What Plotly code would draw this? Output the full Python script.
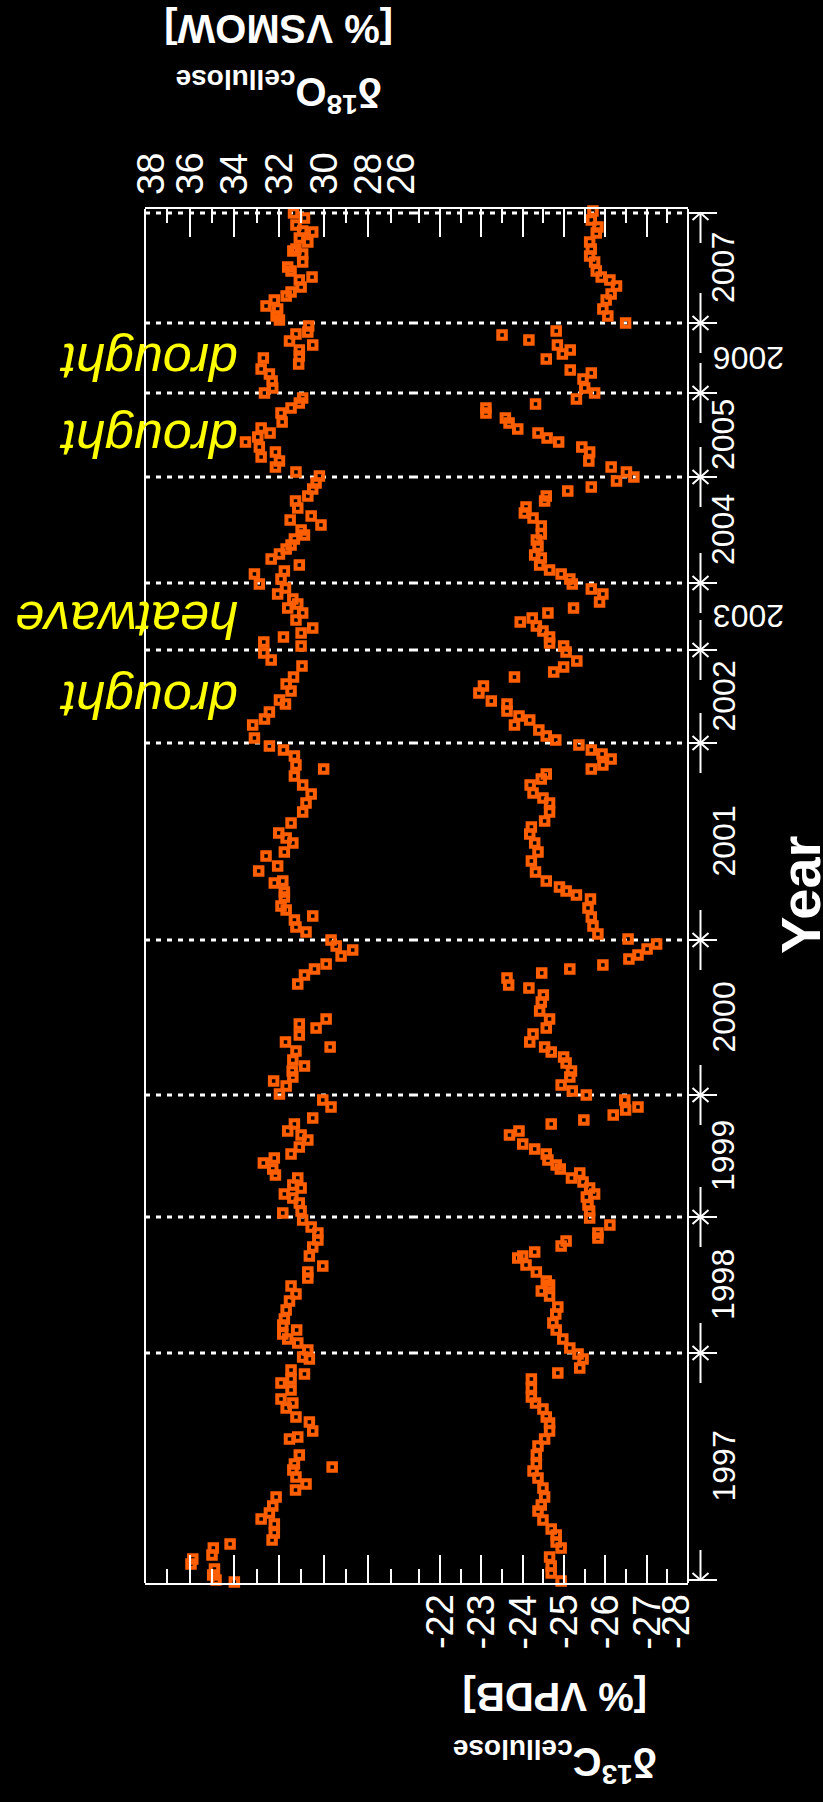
import plotly.graph_objects as go

# ---------------- data ----------------
# radial position along the core (arbitrary units, 0 = bottom of frame)
ring_bounds = [3, 230, 366, 488, 643, 840, 933, 1000, 1106, 1190, 1260, 1370]
ring_years = ["1997", "1998", "1999", "2000", "2001", "2002", "2003", "2004", "2005", "2006", "2007"]
flat_years = ["2003", "2006"]
event_names = ["drought", "heatwave", "drought", "drought"]
event_years = ["2002", "2003", "2005", "2006"]

o18_pos = [1370, 1365, 1358, 1352, 1351, 1345, 1341, 1334, 1332, 1329, 1321, 1316, 1312, 1306, 1303, 1296, 1291, 1287, 1283, 1277, 1274, 1267, 1263,
           1257, 1251, 1249, 1242, 1238, 1233, 1227, 1225, 1219, 1214, 1209, 1202, 1195, 1190,
           1185, 1180, 1175, 1170, 1161, 1155, 1150, 1146, 1141, 1136, 1131, 1126, 1122, 1116, 1111,
           1107, 1100, 1094, 1087, 1082, 1075, 1067, 1063, 1058, 1053, 1048, 1044, 1038, 1034, 1029, 1024, 1018, 1012, 1009, 1004, 999,
           995, 989, 984, 979, 975, 970, 963, 955, 950, 946, 941, 937, 930, 923,
           917, 906, 899, 892, 883, 879, 871, 864, 858, 845, 837,
           833, 827, 818, 814, 807, 798, 789, 780, 771, 760, 750, 745, 740, 731, 727, 717, 712, 702, 700, 691,
           686, 677, 673, 667, 663, 656, 651,
           643, 637, 633, 627, 619, 614, 608, 599, 564, 559, 555, 548, 541, 536, 532, 523, 517, 512, 506, 502, 497, 489,
           483, 476, 465, 459, 452, 448, 443, 436, 429, 425, 420, 414, 408, 405, 398, 395, 389, 385, 380, 372, 370,
           363, 356, 350, 343, 336, 327, 317, 311, 305, 297, 289, 282, 273, 264, 258, 253, 249, 244, 240, 233, 226,
           224, 213, 209, 204, 200, 193, 184, 180, 175, 166, 161, 152, 146, 144, 128, 119, 116, 113, 106, 99, 93, 86, 77, 70, 64,
           59, 50, 43, 39, 35, 28, 24, 19, 14, 8, 3, 1]
o18_val = [31.35, 30.86, 31.24, 30.94, 30.49, 31.09, 30.71, 31.24, 31.38, 30.94, 30.94, 31.61, 31.46, 30.52, 31.09, 31.01, 31.46, 31.68, 32.21, 32.58, 32.06, 32.13, 31.98,
           30.67, 30.71, 31.24, 31.53, 30.49, 31.09, 31.09, 32.70, 31.12, 32.80, 32.43, 32.31, 32.28, 32.65,
           30.94, 31.09, 31.46, 31.91, 31.86, 32.80, 32.40, 32.95, 33.50, 32.88, 32.16, 32.80, 31.98, 32.16, 31.24,
           30.19, 30.34, 30.49, 30.71, 31.26, 31.16, 30.56, 31.50, 30.12, 31.01, 30.86, 31.31, 31.46, 31.68, 31.98, 32.35, 31.09, 31.76, 33.10, 31.91, 32.88,
           31.71, 32.06, 31.38, 31.16, 31.61, 30.94, 31.24, 30.49, 31.01, 31.80, 32.68, 31.01, 32.68, 32.35,
           30.97, 31.35, 31.68, 31.46, 31.98, 31.71, 32.43, 32.65, 33.18, 33.10, 32.43,
           31.80, 31.31, 31.24, 30.00, 31.31, 30.94, 30.56, 30.79, 30.94, 31.46, 32.01, 31.68, 31.38, 31.76, 32.58, 32.06, 32.91, 31.83, 32.21, 31.76,
           31.76, 31.91, 31.68, 30.49, 31.31, 31.24, 30.79,
           29.67, 29.44, 28.70, 29.22, 29.89, 30.41, 30.86, 31.16, 29.89, 31.09, 30.34, 31.09, 31.71, 29.71, 31.24, 31.38, 30.86, 31.41, 31.38, 32.24, 31.68, 31.98,
           30.04, 29.67, 30.49, 31.31, 31.61, 31.01, 30.71, 31.09, 31.46, 32.21, 32.70, 32.28, 32.16, 31.16, 31.38, 31.01, 31.76, 31.38, 31.09, 31.01, 31.83,
           30.94, 30.56, 30.26, 30.26, 30.49, 30.64, 30.04, 30.71, 30.71, 31.46, 31.24, 31.53, 31.68, 31.76, 31.83, 31.21, 31.83, 31.61, 31.16, 30.71, 30.94,
           30.64, 31.46, 30.86, 31.46, 31.91, 31.46, 31.91, 31.38, 31.68, 31.24, 30.64, 30.49, 31.16, 31.53, 31.09, 31.31, 29.62, 31.38, 31.24, 30.79, 31.26, 32.13, 32.28, 32.43, 32.80,
           32.21, 32.21, 32.31, 34.19, 34.94, 35.00, 35.86, 35.94, 34.89, 34.97, 34.82, 34.00]

c13_pos = [1372, 1363, 1356, 1350, 1341, 1334, 1327, 1321, 1312, 1306, 1303, 1297, 1289, 1283, 1274, 1267, 1260,
           1252, 1248, 1243, 1238, 1233, 1229, 1224, 1213, 1210, 1204, 1195, 1190,
           1184, 1179, 1175, 1170, 1165, 1160, 1154, 1150, 1145, 1141, 1136, 1131, 1122, 1116, 1111, 1106,
           1102, 1096, 1092, 1087, 1082, 1076, 1070, 1065, 1057, 1049, 1043, 1037, 1028, 1025, 1018, 1013, 1009, 1004,
           999, 994, 989, 981, 975, 970, 965, 961, 957, 952, 946, 940, 937,
           931, 922, 916, 911, 906, 897, 890, 882, 879, 872, 867, 863, 858, 853, 847, 843,
           838, 833, 829, 824, 818, 814, 809, 804, 798, 790, 785, 780, 771, 762, 756, 749, 740, 731, 722, 711, 702, 696, 692, 688, 684,
           675, 666, 657, 649,
           644, 639, 634, 628, 624, 618, 614, 610, 605, 598, 595, 588, 581, 572, 564, 555, 549, 541, 536, 531, 526, 520, 512, 506, 498, 492, 488,
           483, 476, 473, 468, 463, 459, 452, 448, 439, 434, 429, 423, 418, 414, 410, 405, 401, 395, 389, 386, 378, 372, 365,
           358, 350, 345, 342, 337, 331, 327, 325, 318, 311, 302, 298, 292, 287, 276, 269, 260, 253, 244, 235, 229, 224, 215,
           210, 204, 195, 186, 180, 174, 166, 160, 152, 144, 137, 128, 119, 112, 105, 95, 86, 78, 72, 63, 54, 48, 41, 35, 26, 17, 10, 2]
c13_val = [-25.70, -25.66, -25.82, -25.78, -25.62, -25.66, -25.62, -25.74, -25.78, -25.90, -26.11, -26.27, -26.14, -26.02, -25.94, -26.06, -26.49,
           -24.81, -23.50, -24.15, -24.84, -25.15, -24.96, -24.57, -25.15, -25.66, -25.46, -25.50, -25.74,
           -25.30, -24.31, -23.11, -23.11, -23.58, -23.67, -23.88, -24.37, -24.59, -24.87, -25.43, -25.62, -25.60, -26.14, -26.51, -26.69,
           -26.27, -25.66, -25.09, -24.57, -24.53, -24.08, -24.04, -24.25, -24.45, -24.45, -24.33, -24.37, -24.29, -24.45, -24.41, -24.65, -24.93, -25.14,
           -25.20, -25.66, -25.94, -25.86, -25.23, -24.61, -24.23, -23.94, -24.33, -24.49, -24.65, -24.65, -24.99,
           -25.05, -25.31, -24.99, -24.75, -23.80, -23.05, -22.94, -23.24, -23.62, -23.62, -23.91, -24.17, -23.80, -24.39, -24.57, -24.80,
           -25.36, -25.66, -25.92, -26.14, -25.94, -25.66, -24.57, -24.45, -24.18, -24.25, -24.49, -24.65, -24.65, -24.53, -24.21, -24.17, -24.29, -24.37, -24.21, -24.31, -24.57, -24.89, -25.05, -25.30, -25.64,
           -25.58, -25.66, -25.70, -25.82,
           -26.55, -27.24, -27.01, -26.79, -26.57, -25.94, -25.14, -24.46, -23.62, -23.66, -24.15, -24.50, -24.45, -24.41, -24.65, -24.57, -24.25, -24.17, -24.53, -24.69, -24.99, -25.05, -25.18, -25.14, -24.93, -25.20, -25.54,
           -26.47, -26.79, -26.49, -26.19, -25.48, -24.69, -23.91, -23.68, -24.00, -24.29, -24.57, -24.61, -24.81, -24.91, -25.38, -25.18, -25.46, -25.62, -25.74, -25.54, -25.58, -25.62, -25.62,
           -26.11, -25.82, -25.82, -25.05, -24.93, -24.29, -24.00, -23.88, -24.08, -24.33, -24.57, -24.65, -24.45, -24.65, -24.85, -24.80, -24.73, -24.81, -24.97, -25.14, -25.34, -25.46, -25.38,
           -24.85, -24.21, -24.21, -24.21, -24.31, -24.49, -24.57, -24.65, -24.65, -24.53, -24.37, -24.33, -24.33, -24.25, -24.37, -24.49, -24.53, -24.45, -24.37, -24.49, -24.69, -24.81, -24.81, -24.93, -24.65, -24.69, -24.69, -24.93]

o18_ticks = [38, 36, 34, 32, 30, 28, 26]
o18_ticktext = ["38", "36", "34", "32", "30", "28", "26"]
c13_ticks = [-22, -23, -24, -25, -26, -27, -28]
c13_ticktext = ["-22", "-23", "-24", "-25", "-26", "-27", "-28"]

# ---------------- layout geometry ----------------
W, H = 823, 1802
ML, MR, MT, MB = 145, 0, 209, 219
PW = W - ML - MR
PH = H - MT - MB
LEFT_W, RIGHT_W = 268, 275
d1 = LEFT_W / PW
d2 = (LEFT_W + RIGHT_W) / PW
POS_RANGE = [0, PH]
X3_RANGE = [0, W - ML - LEFT_W - RIGHT_W]


def py(px_from_top):
    """paper y for a pixel row measured from the top of the figure"""
    return (H - MB - px_from_top) / PH


def pxx(px_from_left):
    return (px_from_left - ML) / PW


FONT = "Liberation Sans, Arial, Helvetica, sans-serif"
ORANGE = "#FF5F00"
WHITE = "white"

fig = go.Figure()

marker = dict(symbol="square-open", size=7.5, color=ORANGE, line=dict(width=4, color=ORANGE))
fig.add_trace(go.Scatter(x=o18_val, y=o18_pos, mode="markers", marker=marker,
                         xaxis="x", yaxis="y", cliponaxis=False, hoverinfo="skip", showlegend=False))
fig.add_trace(go.Scatter(x=c13_val, y=c13_pos, mode="markers", marker=marker,
                         xaxis="x2", yaxis="y", cliponaxis=False, hoverinfo="skip", showlegend=False))

# ring boundary dimension column (x3 units)
LX = 12.5
ARM_X, ARM_Y, ARROW_LEN = 8, 7, 30
TICK_X = [0, 29]
xs, ys = [], []
for b in ring_bounds:
    xs += [TICK_X[0], TICK_X[1], None]
    ys += [b, b, None]
for i in range(len(ring_years)):
    lo, hi = ring_bounds[i], ring_bounds[i + 1]
    xs += [LX, LX, None, LX - ARM_X, LX, LX + ARM_X, None]
    ys += [lo + ARROW_LEN, lo, None, lo + ARM_Y, lo, lo + ARM_Y, None]
    xs += [LX, LX, None, LX - ARM_X, LX, LX + ARM_X, None]
    ys += [hi - ARROW_LEN, hi, None, hi - ARM_Y, hi, hi - ARM_Y, None]
fig.add_trace(go.Scatter(x=xs, y=ys, mode="lines", line=dict(color=WHITE, width=2),
                         xaxis="x3", yaxis="y", cliponaxis=False, hoverinfo="skip", showlegend=False))

shapes = []
# dotted ring boundary lines
for b in ring_bounds[1:]:
    for xr, x0, x1 in (("x", 38, 26), ("x2", -21.345, -28)):
        shapes.append(dict(type="line", xref=xr, yref="y", x0=x0, x1=x1, y0=b, y1=b,
                           line=dict(color=WHITE, width=3, dash="5px,6px"), layer="below"))
# vertical frame lines
for xp in (0, d2):
    shapes.append(dict(type="line", xref="paper", yref="paper", x0=xp, x1=xp, y0=0, y1=1,
                       line=dict(color=WHITE, width=2)))

annotations = []
# value-axis tick labels (rotated; end labels nudged inwards)
TICK_FONT = dict(size=38, color=WHITE, family=FONT)
o18_shift = {0: 6, len(o18_ticks) - 1: -12}
c13_shift = {len(c13_ticks) - 1: -12}
for k, (v, t) in enumerate(zip(o18_ticks, o18_ticktext)):
    annotations.append(dict(x=v, y=py(174), xref="x", yref="paper", text=t, showarrow=False,
                            textangle=-90, xanchor="center", yanchor="middle",
                            xshift=o18_shift.get(k, 0), font=TICK_FONT))
for k, (v, t) in enumerate(zip(c13_ticks, c13_ticktext)):
    annotations.append(dict(x=v, y=py(1622), xref="x2", yref="paper", text=t, showarrow=False,
                            textangle=-90, xanchor="center", yanchor="middle",
                            xshift=c13_shift.get(k, 0), font=TICK_FONT))

for i, yr in enumerate(ring_years):
    mid = (ring_bounds[i] + ring_bounds[i + 1]) / 2
    if yr in flat_years:
        annotations.append(dict(x=60.5, y=mid, xref="x3", yref="y", text=yr, showarrow=False,
                                textangle=180, font=dict(size=32, color=WHITE, family=FONT)))
    else:
        annotations.append(dict(x=35, y=mid, xref="x3", yref="y", text=yr, showarrow=False,
                                textangle=-90, font=dict(size=32, color=WHITE, family=FONT)))
annotations.append(dict(x=112, y=688, xref="x3", yref="y", text="<b>Year</b>", showarrow=False,
                        textangle=-90, font=dict(size=56, color=WHITE, family=FONT)))

for name, yr in zip(event_names, event_years):
    i = ring_years.index(yr)
    mid = (ring_bounds[i] + ring_bounds[i + 1]) / 2
    annotations.append(dict(x=pxx(240), y=mid - 4, xref="paper", yref="y", xanchor="right",
                            text="<i>%s</i>" % name, showarrow=False, textangle=180,
                            font=dict(size=52, color="#FFFF00", family=FONT)))

TITLE_FONT = dict(size=40, color=WHITE, family=FONT)
title_common = dict(xref="paper", yref="paper", showarrow=False, textangle=180,
                    xanchor="center", yanchor="middle", font=TITLE_FONT)
annotations += [
    dict(x=pxx(279), y=py(29), text="<b>[% VSMOW]</b>", **title_common),
    dict(x=pxx(279), y=py(92), text="<b>δ<sup>18</sup>O<sub>cellulose</sub></b>", **title_common),
    dict(x=pxx(555), y=py(1697), text="<b>[% VPDB]</b>", **title_common),
    dict(x=pxx(555), y=py(1762), text="<b>δ<sup>13</sup>C<sub>cellulose</sub></b>", **title_common),
]

axis_common = dict(showgrid=False, zeroline=False, showline=True, linecolor=WHITE, linewidth=2,
                   mirror="ticks", ticks="inside", ticklen=28, tickwidth=2, tickcolor=WHITE,
                   showticklabels=False)

fig.update_layout(
    width=W, height=H,
    margin=dict(l=ML, r=MR, t=MT, b=MB, pad=0),
    paper_bgcolor="black", plot_bgcolor="black",
    font=dict(family=FONT, color=WHITE),
    xaxis=dict(domain=[0, d1], range=[38, 26], anchor="y", side="top",
               tickmode="array", tickvals=o18_ticks,
               minor=dict(tickmode="linear", tick0=37, dtick=1, ticks="inside", ticklen=14,
                          tickwidth=2, tickcolor=WHITE),
               **axis_common),
    xaxis2=dict(domain=[d1, d2], range=[-21.345, -28], anchor="y", side="bottom",
                tickmode="array", tickvals=c13_ticks,
                minor=dict(tickmode="linear", tick0=-21.5, dtick=0.5, ticks="inside", ticklen=14,
                           tickwidth=2, tickcolor=WHITE),
                **axis_common),
    xaxis3=dict(domain=[d2, 1], range=X3_RANGE, anchor="y", visible=False),
    yaxis=dict(domain=[0, 1], range=POS_RANGE, anchor="x", visible=False),
    shapes=shapes,
    annotations=annotations,
    showlegend=False,
)

fig.write_html("out.html", config={"displayModeBar": False},
               post_script="document.body.style.margin='0';")
